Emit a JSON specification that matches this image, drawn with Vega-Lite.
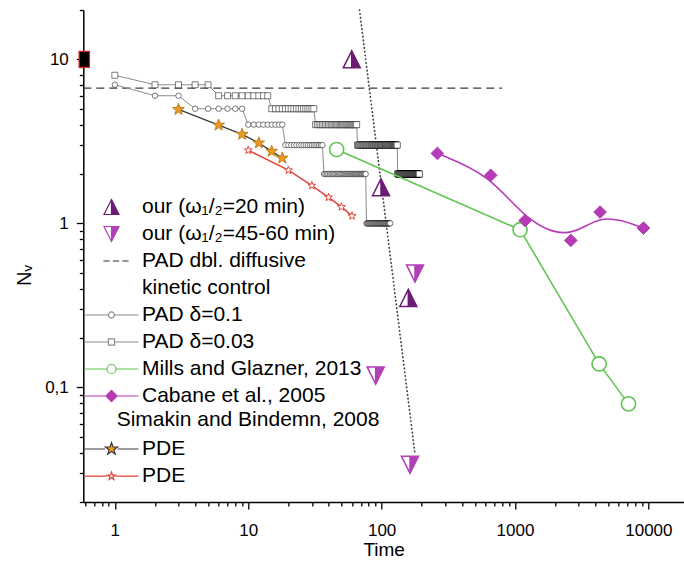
{
  "$schema": "https://vega.github.io/schema/vega-lite/v6.json",
  "width": 600.7,
  "height": 492,
  "autosize": {"type": "none"},
  "padding": {"left": 83.3, "top": 10, "right": 0, "bottom": 64},
  "background": "white",
  "config": {"font": "Liberation Sans", "view": {"stroke": null}},
  "datasets": {
    "dbl": [{"t": 0.58, "n": 6.68}, {"t": 800, "n": 6.68}],
    "steep": [{"t": 68.3, "n": 20}, {"t": 178, "n": 0.039}],
    "corner": [{"t": 0.59, "n": 10}],
    "tri20": [{"t": 59.7, "n": 10.0}, {"t": 99, "n": 1.66}, {"t": 158.6, "n": 0.351}],
    "tri45": [{"t": 178, "n": 0.495}, {"t": 90.3, "n": 0.118}, {"t": 163.3, "n": 0.0337}],
    "mills": [{"t": 46, "n": 2.82}, {"t": 1092, "n": 0.915}, {"t": 4276, "n": 0.139}, {"t": 7096, "n": 0.0793}],
    "cabane": [{"t": 262, "n": 2.67}, {"t": 658, "n": 1.965}, {"t": 1191, "n": 1.04}, {"t": 2622, "n": 0.787}, {"t": 4345, "n": 1.172}, {"t": 9190, "n": 0.936}],
    "pdeA": [{"t": 3, "n": 4.95}, {"t": 6, "n": 3.97}, {"t": 9, "n": 3.49}, {"t": 12, "n": 3.09}, {"t": 15, "n": 2.75}, {"t": 18, "n": 2.5}],
    "pdeB": [{"t": 10, "n": 2.79}, {"t": 20, "n": 2.11}, {"t": 30, "n": 1.70}, {"t": 40, "n": 1.44}, {"t": 50, "n": 1.26}, {"t": 60, "n": 1.11}],
    "pad01": [
      {"t":1,"n":7},{"t":2,"n":6},{"t":3,"n":6},
      {"t":4,"n":5},{"t":5,"n":5},{"t":6,"n":5},{"t":7,"n":5},{"t":8,"n":5},{"t":9,"n":5},
      {"t":10,"n":4},{"t":11,"n":4},{"t":12,"n":4},{"t":13,"n":4},{"t":14,"n":4},{"t":15,"n":4},{"t":16,"n":4},{"t":17,"n":4},{"t":18,"n":4},
      {"t":19,"n":3},{"t":20,"n":3},{"t":21,"n":3},{"t":22,"n":3},{"t":23,"n":3},{"t":24,"n":3},{"t":25,"n":3},{"t":26,"n":3},{"t":27,"n":3},{"t":28,"n":3},{"t":29,"n":3},{"t":30,"n":3},{"t":31,"n":3},{"t":32,"n":3},{"t":33,"n":3},{"t":34,"n":3},{"t":35,"n":3},{"t":36,"n":3},
      {"t":37,"n":2},{"t":38,"n":2},{"t":39,"n":2},{"t":40,"n":2},{"t":41,"n":2},{"t":42,"n":2},{"t":43,"n":2},{"t":44,"n":2},{"t":45,"n":2},{"t":46,"n":2},{"t":47,"n":2},{"t":48,"n":2},{"t":49,"n":2},{"t":50,"n":2},{"t":51,"n":2},{"t":52,"n":2},{"t":53,"n":2},{"t":54,"n":2},{"t":55,"n":2},{"t":56,"n":2},{"t":57,"n":2},{"t":58,"n":2},{"t":59,"n":2},{"t":60,"n":2},{"t":61,"n":2},{"t":62,"n":2},{"t":63,"n":2},{"t":64,"n":2},{"t":65,"n":2},{"t":66,"n":2},{"t":67,"n":2},{"t":68,"n":2},{"t":69,"n":2},{"t":70,"n":2},{"t":71,"n":2},{"t":72,"n":2},{"t":73,"n":2},{"t":74,"n":2},{"t":75,"n":2},{"t":76,"n":2},
      {"t":77,"n":1},{"t":78,"n":1},{"t":79,"n":1},{"t":80,"n":1},{"t":81,"n":1},{"t":82,"n":1},{"t":83,"n":1},{"t":84,"n":1},{"t":85,"n":1},{"t":86,"n":1},{"t":87,"n":1},{"t":88,"n":1},{"t":89,"n":1},{"t":90,"n":1},{"t":91,"n":1},{"t":92,"n":1},{"t":93,"n":1},{"t":94,"n":1},{"t":95,"n":1},{"t":96,"n":1},{"t":97,"n":1},{"t":98,"n":1},{"t":99,"n":1},{"t":100,"n":1},{"t":101,"n":1},{"t":102,"n":1},{"t":103,"n":1},{"t":104,"n":1},{"t":105,"n":1},{"t":106,"n":1},{"t":107,"n":1},{"t":108,"n":1},{"t":109,"n":1},{"t":110,"n":1},{"t":111,"n":1},{"t":112,"n":1},{"t":113,"n":1},{"t":114,"n":1},{"t":115,"n":1},{"t":116,"n":1}
    ],
    "pad003": [
      {"t":1,"n":8},{"t":2,"n":7},{"t":3,"n":7},{"t":4,"n":7},{"t":5,"n":7},
      {"t":6,"n":6},{"t":7,"n":6},{"t":8,"n":6},{"t":9,"n":6},{"t":10,"n":6},{"t":11,"n":6},{"t":12,"n":6},{"t":13,"n":6},{"t":14,"n":6},
      {"t":15,"n":5},{"t":16,"n":5},{"t":17,"n":5},{"t":18,"n":5},{"t":19,"n":5},{"t":20,"n":5},{"t":21,"n":5},{"t":22,"n":5},{"t":23,"n":5},{"t":24,"n":5},{"t":25,"n":5},{"t":26,"n":5},{"t":27,"n":5},{"t":28,"n":5},{"t":29,"n":5},{"t":30,"n":5},{"t":31,"n":5},
      {"t":32,"n":4},{"t":33,"n":4},{"t":34,"n":4},{"t":35,"n":4},{"t":36,"n":4},{"t":37,"n":4},{"t":38,"n":4},{"t":39,"n":4},{"t":40,"n":4},{"t":41,"n":4},{"t":42,"n":4},{"t":43,"n":4},{"t":44,"n":4},{"t":45,"n":4},{"t":46,"n":4},{"t":47,"n":4},{"t":48,"n":4},{"t":49,"n":4},{"t":50,"n":4},{"t":51,"n":4},{"t":52,"n":4},{"t":53,"n":4},{"t":54,"n":4},{"t":55,"n":4},{"t":56,"n":4},{"t":57,"n":4},{"t":58,"n":4},{"t":59,"n":4},{"t":60,"n":4},{"t":61,"n":4},{"t":62,"n":4},{"t":63,"n":4},{"t":64,"n":4},{"t":65,"n":4},
      {"t":66,"n":3},{"t":67,"n":3},{"t":68,"n":3},{"t":69,"n":3},{"t":70,"n":3},{"t":71,"n":3},{"t":72,"n":3},{"t":73,"n":3},{"t":74,"n":3},{"t":75,"n":3},{"t":76,"n":3},{"t":77,"n":3},{"t":78,"n":3},{"t":79,"n":3},{"t":80,"n":3},{"t":81,"n":3},{"t":82,"n":3},{"t":83,"n":3},{"t":84,"n":3},{"t":85,"n":3},{"t":86,"n":3},{"t":87,"n":3},{"t":88,"n":3},{"t":89,"n":3},{"t":90,"n":3},{"t":91,"n":3},{"t":92,"n":3},{"t":93,"n":3},{"t":94,"n":3},{"t":95,"n":3},{"t":96,"n":3},{"t":97,"n":3},{"t":98,"n":3},{"t":99,"n":3},{"t":100,"n":3},{"t":101,"n":3},{"t":102,"n":3},{"t":103,"n":3},{"t":104,"n":3},{"t":105,"n":3},{"t":106,"n":3},{"t":107,"n":3},{"t":108,"n":3},{"t":109,"n":3},{"t":110,"n":3},{"t":111,"n":3},{"t":112,"n":3},{"t":113,"n":3},{"t":114,"n":3},{"t":115,"n":3},{"t":116,"n":3},{"t":117,"n":3},{"t":118,"n":3},{"t":119,"n":3},{"t":120,"n":3},{"t":121,"n":3},{"t":122,"n":3},{"t":123,"n":3},{"t":124,"n":3},{"t":125,"n":3},{"t":126,"n":3},{"t":127,"n":3},{"t":128,"n":3},{"t":129,"n":3},{"t":130,"n":3},{"t":131,"n":3},
      {"t":132,"n":2},{"t":133,"n":2},{"t":134,"n":2},{"t":135,"n":2},{"t":136,"n":2},{"t":137,"n":2},{"t":138,"n":2},{"t":139,"n":2},{"t":140,"n":2},{"t":141,"n":2},{"t":142,"n":2},{"t":143,"n":2},{"t":144,"n":2},{"t":145,"n":2},{"t":146,"n":2},{"t":147,"n":2},{"t":148,"n":2},{"t":149,"n":2},{"t":150,"n":2},{"t":151,"n":2},{"t":152,"n":2},{"t":153,"n":2},{"t":154,"n":2},{"t":155,"n":2},{"t":156,"n":2},{"t":157,"n":2},{"t":158,"n":2},{"t":159,"n":2},{"t":160,"n":2},{"t":161,"n":2},{"t":162,"n":2},{"t":163,"n":2},{"t":164,"n":2},{"t":165,"n":2},{"t":166,"n":2},{"t":167,"n":2},{"t":168,"n":2},{"t":169,"n":2},{"t":170,"n":2},{"t":171,"n":2},{"t":172,"n":2},{"t":173,"n":2},{"t":174,"n":2},{"t":175,"n":2},{"t":176,"n":2},{"t":177,"n":2},{"t":178,"n":2},{"t":179,"n":2},{"t":180,"n":2},{"t":181,"n":2},{"t":182,"n":2},{"t":183,"n":2},{"t":184,"n":2},{"t":185,"n":2},{"t":186,"n":2},{"t":187,"n":2},{"t":188,"n":2},{"t":189,"n":2},{"t":190,"n":2},{"t":191,"n":2},{"t":192,"n":2}
    ]
  },
  "encoding": {
    "x": {
      "field": "t", "type": "quantitative",
      "scale": {"type": "log", "domain": [0.58, 18500], "nice": false},
      "axis": {
        "title": "Time",
        "values": [0.6,0.7,0.8,0.9,1,2,3,4,5,6,7,8,9,10,20,30,40,50,60,70,80,90,100,200,300,400,500,600,700,800,900,1000,2000,3000,4000,5000,6000,7000,8000,9000,10000],
        "format": "d",
        "labelExpr": "indexof([1,10,100,1000,10000], datum.value) >= 0 ? datum.label : ''",
        "tickSize": {"condition": {"test": "indexof([1,10,100,1000,10000], datum.value) >= 0", "value": 7}, "value": 4},
        "grid": false, "domainColor": "black", "domainWidth": 1.5,
        "tickColor": "black", "tickWidth": 1.3,
        "labelColor": "black", "labelFontSize": 17, "labelPadding": 13,
        "labelOverlap": false, "labelFlush": false, "labelBound": false,
        "titleFontSize": 19, "titleFontWeight": "normal", "titleColor": "black", "titlePadding": 2
      }
    },
    "y": {
      "field": "n", "type": "quantitative",
      "scale": {"type": "log", "domain": [0.02, 20], "nice": false},
      "axis": {
        "title": "Nᵥ",
        "values": [0.02,0.03,0.04,0.05,0.06,0.07,0.08,0.09,0.1,0.2,0.3,0.4,0.5,0.6,0.7,0.8,0.9,1,2,3,4,5,6,7,8,9,10,20],
        "labelExpr": "datum.value == 0.1 ? '0,1' : (datum.value == 1 ? '1' : (datum.value == 10 ? '10' : ''))",
        "tickSize": {"condition": {"test": "indexof([0.1,1,10], datum.value) >= 0", "value": 7}, "value": 4},
        "grid": false, "domainColor": "black", "domainWidth": 1.5,
        "tickColor": "black", "tickWidth": 1.3,
        "labelColor": "black", "labelFontSize": 17, "labelPadding": 8,
        "labelOverlap": false, "labelBound": false,
        "titleFontSize": 20, "titleFontWeight": "normal", "titleColor": "black", "titlePadding": 10, "titleY": 265
      }
    }
  },
  "layer": [
    {"data": {"name": "dbl"}, "mark": {"type": "line", "color": "#3a3a3a", "strokeWidth": 1.3, "strokeDash": [8, 5]}},
    {"data": {"name": "steep"}, "mark": {"type": "line", "color": "#444444", "strokeWidth": 1.7, "strokeDash": [0.5, 3.3], "strokeCap": "round"}},
    {"data": {"name": "pad003"}, "mark": {"type": "line", "color": "#8c8c8c", "strokeWidth": 1}},
    {"data": {"name": "pad003"}, "mark": {"type": "point", "shape": "square", "size": 36, "filled": true, "fill": "white", "stroke": "black", "strokeOpacity": 0.5, "strokeWidth": 1, "opacity": 1}},
    {"data": {"name": "pad01"}, "mark": {"type": "line", "color": "#8c8c8c", "strokeWidth": 1}},
    {"data": {"name": "pad01"}, "mark": {"type": "point", "shape": "circle", "size": 30, "filled": true, "fill": "white", "stroke": "black", "strokeOpacity": 0.5, "strokeWidth": 1, "opacity": 1}},
    {"data": {"name": "pdeB"}, "mark": {"type": "line", "color": "#e2453b", "strokeWidth": 1.5}},
    {"data": {"name": "pdeA"}, "mark": {"type": "line", "color": "#3d3d3d", "strokeWidth": 1.4}},
    {"data": {"name": "pdeB"}, "mark": {"type": "point", "shape": "M0,-1L0.235,-0.324L0.951,-0.309L0.38,0.124L0.588,0.809L0,0.4L-0.588,0.809L-0.38,0.124L-0.951,-0.309L-0.235,-0.324Z", "size": 70, "filled": true, "fill": "white", "stroke": "#e2453b", "strokeWidth": 1, "opacity": 1}},
    {"data": {"name": "pdeA"}, "mark": {"type": "point", "shape": "M0,-1L0.235,-0.324L0.951,-0.309L0.38,0.124L0.588,0.809L0,0.4L-0.588,0.809L-0.38,0.124L-0.951,-0.309L-0.235,-0.324Z", "size": 150, "filled": true, "fill": "#eb9a22", "stroke": "#c47c14", "strokeWidth": 1, "opacity": 1}},
    {"data": {"name": "mills"}, "mark": {"type": "line", "color": "#62c553", "strokeWidth": 1.6}},
    {"data": {"name": "mills"}, "mark": {"type": "point", "shape": "circle", "size": 200, "filled": true, "fill": "white", "stroke": "#62c553", "strokeWidth": 1.6, "opacity": 1}},
    {"data": {"name": "cabane"}, "mark": {"type": "line", "color": "#b53cb5", "strokeWidth": 1.6, "interpolate": "basis"}},
    {"data": {"name": "cabane"}, "mark": {"type": "point", "shape": "diamond", "size": 160, "filled": true, "fill": "#b53cb5", "stroke": "#b53cb5", "strokeWidth": 1, "opacity": 1}},
    {"data": {"name": "tri20"}, "mark": {"type": "point", "shape": "M0,-1L1,1L-1,1ZM0,-1L-1,1L0,1Z", "size": 289, "filled": true, "fill": "#6b1d73", "stroke": "#6b1d73", "strokeWidth": 1.5, "opacity": 1}},
    {"data": {"name": "tri45"}, "mark": {"type": "point", "shape": "M-1,-1L1,-1L0,1ZM-1,-1L0,1L0,-1Z", "size": 289, "filled": true, "fill": "#b23fb6", "stroke": "#b23fb6", "strokeWidth": 1.5, "opacity": 1}},
    {"data": {"name": "corner"}, "mark": {"type": "point", "shape": "M-0.65,-1H0.65V1H-0.65Z", "size": 256, "filled": true, "fill": "black", "stroke": "#e02020", "strokeWidth": 1.2, "opacity": 1}},
    {
      "data": {"values": []},
      "mark": {"type": "point", "filled": true, "opacity": 1},
      "encoding": {
        "shape": {
          "field": "s", "type": "nominal",
          "scale": {
            "domain": ["our (ω₁/₂=20 min)", "our (ω₁/₂=45-60 min)", "PAD dbl. diffusive", "kinetic control", "PAD δ=0.1", "PAD δ=0.03", "Mills and Glazner, 2013", "Cabane et al., 2005"],
            "range": [
              "M0,-0.833L0.833,0.833L-0.833,0.833ZM0,-0.833L-0.833,0.833L0,0.833Z",
              "M-0.833,-0.833L0.833,-0.833L0,0.833ZM-0.833,-0.833L0,0.833L0,-0.833Z",
              "M-0.9,0H-0.2M0.15,0H0.85M1.2,0H1.9",
              "M0,0",
              "M-3,0H-0.34M0.34,0H3M-0.34,0A0.34,0.34 0 1,0 0.34,0A0.34,0.34 0 1,0 -0.34,0Z",
              "M-3,0H-0.34M0.34,0H3M-0.34,-0.34H0.34V0.34H-0.34Z",
              "M-3,0H-0.5M0.5,0H3M-0.5,0A0.5,0.5 0 1,0 0.5,0A0.5,0.5 0 1,0 -0.5,0Z",
              "M-3,0H3M0,-0.62L0.62,0L0,0.62L-0.62,0Z"
            ]
          },
          "legend": {"orient": "none", "legendX": 17.7, "legendY": 186.5, "title": null, "padding": 0, "symbolSize": 324, "symbolStrokeWidth": 1.2, "labelFont": "Liberation Sans", "labelFontSize": 21, "labelColor": "black", "labelOffset": 20, "labelLimit": 400, "rowPadding": 5.0}
        },
        "fill": {
          "field": "s", "type": "nominal",
          "scale": {
            "domain": ["our (ω₁/₂=20 min)", "our (ω₁/₂=45-60 min)", "PAD dbl. diffusive", "kinetic control", "PAD δ=0.1", "PAD δ=0.03", "Mills and Glazner, 2013", "Cabane et al., 2005"],
            "range": ["#6b1d73", "#b23fb6", "transparent", "transparent", "white", "white", "white", "#b53cb5"]
          },
          "legend": {"orient": "none", "legendX": 17.7, "legendY": 186.5, "title": null, "padding": 0, "symbolSize": 324, "symbolStrokeWidth": 1.2, "labelFont": "Liberation Sans", "labelFontSize": 21, "labelColor": "black", "labelOffset": 20, "labelLimit": 400, "rowPadding": 5.0}
        },
        "stroke": {
          "field": "s", "type": "nominal",
          "scale": {
            "domain": ["our (ω₁/₂=20 min)", "our (ω₁/₂=45-60 min)", "PAD dbl. diffusive", "kinetic control", "PAD δ=0.1", "PAD δ=0.03", "Mills and Glazner, 2013", "Cabane et al., 2005"],
            "range": ["#6b1d73", "#b23fb6", "#333333", "transparent", "#8c8c8c", "#8c8c8c", "#62c553", "#b53cb5"]
          },
          "legend": {"orient": "none", "legendX": 17.7, "legendY": 186.5, "title": null, "padding": 0, "symbolSize": 324, "symbolStrokeWidth": 1.2, "labelFont": "Liberation Sans", "labelFontSize": 21, "labelColor": "black", "labelOffset": 20, "labelLimit": 400, "rowPadding": 5.0}
        }
      }
    },
    {
      "data": {"values": []},
      "mark": {"type": "point", "filled": true, "opacity": 1},
      "encoding": {
        "shape": {
          "field": "s", "type": "nominal",
          "scale": {
            "domain": ["PDE stars", "PDE open stars"],
            "range": [
              "M-3,0H-0.7M0.7,0H3M0,-0.72L0.169,-0.233L0.685,-0.222L0.274,0.089L0.423,0.582L0,0.288L-0.423,0.582L-0.274,0.089L-0.685,-0.222L-0.169,-0.233Z",
              "M-3,0H-0.45M0.45,0H3M0,-0.45L0.106,-0.146L0.428,-0.139L0.171,0.056L0.265,0.364L0,0.18L-0.265,0.364L-0.171,0.056L-0.428,-0.139L-0.106,-0.146Z"
            ]
          },
          "legend": {"orient": "none", "legendX": 33.4, "legendY": 398.5, "title": "Simakin and Bindemn, 2008", "titleFont": "Liberation Sans", "titleFontSize": 21, "titleFontWeight": "normal", "titleColor": "black", "titlePadding": 9, "titleLimit": 400, "padding": 0, "symbolSize": 324, "symbolStrokeWidth": 1.2, "symbolOffset": -15.7, "labelOffset": 20, "labelExpr": "'PDE'", "labelFont": "Liberation Sans", "labelFontSize": 21, "labelColor": "black", "rowPadding": 5.2}
        },
        "fill": {
          "field": "s", "type": "nominal",
          "scale": {"domain": ["PDE stars", "PDE open stars"], "range": ["#eb9a22", "white"]},
          "legend": {"orient": "none", "legendX": 33.4, "legendY": 398.5, "title": "Simakin and Bindemn, 2008", "titleFont": "Liberation Sans", "titleFontSize": 21, "titleFontWeight": "normal", "titleColor": "black", "titlePadding": 9, "titleLimit": 400, "padding": 0, "symbolSize": 324, "symbolStrokeWidth": 1.2, "symbolOffset": -15.7, "labelOffset": 20, "labelExpr": "'PDE'", "labelFont": "Liberation Sans", "labelFontSize": 21, "labelColor": "black", "rowPadding": 5.2}
        },
        "stroke": {
          "field": "s", "type": "nominal",
          "scale": {"domain": ["PDE stars", "PDE open stars"], "range": ["#3d3d3d", "#e2453b"]},
          "legend": {"orient": "none", "legendX": 33.4, "legendY": 398.5, "title": "Simakin and Bindemn, 2008", "titleFont": "Liberation Sans", "titleFontSize": 21, "titleFontWeight": "normal", "titleColor": "black", "titlePadding": 9, "titleLimit": 400, "padding": 0, "symbolSize": 324, "symbolStrokeWidth": 1.2, "symbolOffset": -15.7, "labelOffset": 20, "labelExpr": "'PDE'", "labelFont": "Liberation Sans", "labelFontSize": 21, "labelColor": "black", "rowPadding": 5.2}
        }
      }
    }
  ],
  "resolve": {
    "scale": {"shape": "independent", "fill": "independent", "stroke": "independent"},
    "legend": {"shape": "independent", "fill": "independent", "stroke": "independent"}
  }
}
